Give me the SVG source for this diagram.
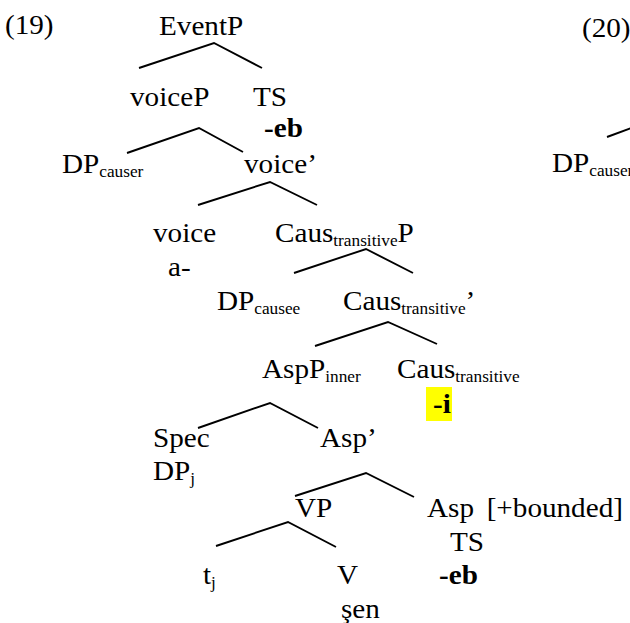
<svg xmlns="http://www.w3.org/2000/svg" width="630" height="623" viewBox="0 0 630 623">
  <style>
    text { font-family: "Liberation Serif", "DejaVu Serif", "Times New Roman", serif; }
    .t { font-size: 27px; fill: #000; transform: scaleX(1.08); }
    .b { font-weight: bold; }
    .sub { font-size: 16px; }
    .edge { stroke: #000; stroke-width: 1.9; fill: none; stroke-linecap: butt; }
  </style>
  <rect width="630" height="623" fill="#fff"/>

  <!-- example numbers -->
  <g id="label-19" transform="translate(5,34)"><text class="t">(19)</text></g>
  <g id="label-20" transform="translate(582,37)"><text class="t">(20)</text></g>

  <!-- branches -->
  <g id="connectors">
    <polyline class="edge" points="139,68 214,43 262,68"/>
    <polyline class="edge" points="127,153 199,128 243,152"/>
    <polyline class="edge" points="198,205 270,182 317,205"/>
    <polyline class="edge" points="294,273 366,249 413,273"/>
    <polyline class="edge" points="315,346 388,322 437,344"/>
    <polyline class="edge" points="198,428 270,403 318,428"/>
    <polyline class="edge" points="295,496 366,473 414,497"/>
    <polyline class="edge" points="216,546 288,522 336,547"/>
    <line class="edge" x1="607" y1="137" x2="634" y2="127"/>
  </g>

  <!-- tree (19) -->
  <g id="n-eventp" transform="translate(159,35)"><text class="t">EventP</text></g>
  <g id="n-voicep" transform="translate(130,106)"><text class="t">voiceP</text></g>
  <g id="n-ts-top" transform="translate(253,106)"><text class="t">TS</text></g>
  <g id="n-eb-top" transform="translate(264,137)"><text class="t b">-eb</text></g>
  <g id="n-dp-causer" transform="translate(62,173)"><text class="t">DP<tspan class="sub" dy="4">causer</tspan></text></g>
  <g id="n-voice-bar" transform="translate(244,173)"><text class="t">voice’</text></g>
  <g id="n-voice" transform="translate(153,242)"><text class="t">voice</text></g>
  <g id="n-a" transform="translate(168,276)"><text class="t">a-</text></g>
  <g id="n-causp" transform="translate(275,242)"><text class="t">Caus<tspan class="sub" dy="4">transitive</tspan><tspan dy="-4">P</tspan></text></g>
  <g id="n-dp-causee" transform="translate(217,310)"><text class="t">DP<tspan class="sub" dy="4">causee</tspan></text></g>
  <g id="n-caus-bar" transform="translate(343,310)"><text class="t">Caus<tspan class="sub" dy="4">transitive</tspan><tspan dy="-4">’</tspan></text></g>
  <g id="n-aspp" transform="translate(262,378)"><text class="t">AspP<tspan class="sub" dy="4">inner</tspan></text></g>
  <g id="n-caus-head" transform="translate(397,378)"><text class="t">Caus<tspan class="sub" dy="4">transitive</tspan></text></g>
  <g id="n-i">
    <rect x="426" y="387" width="26" height="34" fill="#ffff00"/>
    <g transform="translate(433,413)"><text class="t b">-i</text></g>
  </g>
  <g id="n-spec" transform="translate(153,447)"><text class="t">Spec</text></g>
  <g id="n-asp-bar" transform="translate(320,447)"><text class="t">Asp’</text></g>
  <g id="n-dpj" transform="translate(153,480)"><text class="t">DP<tspan class="sub" dy="4">j</tspan></text></g>
  <g id="n-vp" transform="translate(295,517)"><text class="t">VP</text></g>
  <g id="n-asp-head" transform="translate(427,517)"><text class="t" word-spacing="5">Asp [+bounded]</text></g>
  <g id="n-ts-low" transform="translate(450,551)"><text class="t">TS</text></g>
  <g id="n-tj" transform="translate(203,584)"><text class="t">t<tspan class="sub" dy="4">j</tspan></text></g>
  <g id="n-v" transform="translate(337,584)"><text class="t">V</text></g>
  <g id="n-eb-low" transform="translate(439,584)"><text class="t b">-eb</text></g>
  <g id="n-sen" transform="translate(341,618)"><text class="t">şen</text></g>

  <!-- tree (20), running past the right edge -->
  <g id="n-dp-causer-20" transform="translate(552,172)"><text class="t">DP<tspan class="sub" dy="4">causer</tspan></text></g>
</svg>
